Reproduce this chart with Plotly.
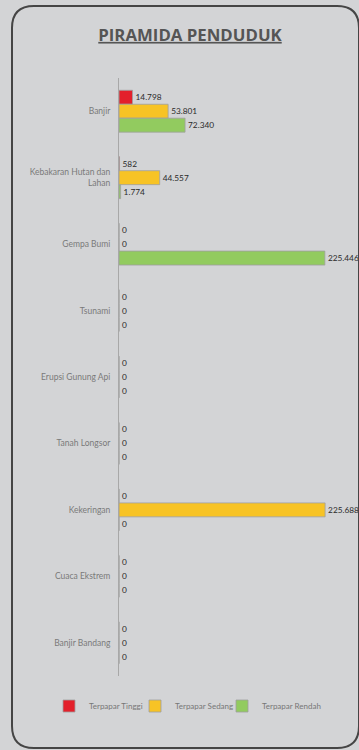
import plotly.graph_objects as go

categories = ["Banjir", "Kebakaran Hutan dan<br>Lahan", "Gempa Bumi", "Tsunami",
              "Erupsi Gunung Api", "Tanah Longsor", "Kekeringan", "Cuaca Ekstrem",
              "Banjir Bandang"]
tinggi = [14798, 582, 0, 0, 0, 0, 0, 0, 0]
sedang = [53801, 44557, 0, 0, 0, 0, 225688, 0, 0]
rendah = [72340, 1774, 225446, 0, 0, 0, 0, 0, 0]
series_names = ["Terpapar Tinggi", "Terpapar Sedang", "Terpapar Rendah"]
colors = ["#e3202b", "#f7c325", "#92cb5f"]

W, H = 359, 750
ML, MR, MT, MB = 119, 19, 78, 74
PW, PH = W - ML - MR, H - MT - MB

def px(x):
    return (x - ML) / PW

def py(y):
    return (H - MB - y) / PH

legend_ids = ["legend", "legend2", "legend3"]
legend_left = [49, 135, 222]

fig = go.Figure()
for name, vals, col, lid in zip(series_names, [tinggi, sedang, rendah], colors, legend_ids):
    fig.add_trace(go.Bar(
        y=categories, x=vals, name=name, orientation="h", legend=lid,
        marker=dict(color=col, line=dict(color="#a0a0a0", width=0.8)),
        text=vals, texttemplate="%{x:,}", textposition="outside",
        textfont=dict(family="Lato", size=8.3, color="#2a2a2a"),
        cliponaxis=False, constraintext="none",
    ))

# rounded border
r = 22
x0, y0, x1, y1 = 12, 6, 359, 748
path = (f"M {px(x0+r)},{py(y0)} L {px(x1-r)},{py(y0)} "
        f"Q {px(x1)},{py(y0)} {px(x1)},{py(y0+r)} "
        f"L {px(x1)},{py(y1-r)} Q {px(x1)},{py(y1)} {px(x1-r)},{py(y1)} "
        f"L {px(x0+r)},{py(y1)} Q {px(x0)},{py(y1)} {px(x0)},{py(y1-r)} "
        f"L {px(x0)},{py(y0+r)} Q {px(x0)},{py(y0)} {px(x0+r)},{py(y0)} Z")

legend_style = dict(orientation="h", xanchor="left", yanchor="middle", y=py(706),
                    font=dict(family="Lato", size=8, color="#777777"),
                    itemwidth=30, bgcolor="rgba(0,0,0,0)")
legends = {lid: dict(legend_style, x=px(lx)) for lid, lx in zip(legend_ids, legend_left)}

fig.update_layout(
    width=W, height=H,
    margin=dict(l=ML, r=MR, t=MT, b=MB, autoexpand=False),
    paper_bgcolor="#d3d4d6", plot_bgcolor="#d3d4d6",
    separators=",.",
    barmode="group", bargap=0.37, bargroupgap=0,
    showlegend=True,
    title=dict(text="<b><u>PIRAMIDA PENDUDUK</u></b>", x=190 / W, xref="container",
               xanchor="center", y=1 - 35 / H, yanchor="middle",
               font=dict(family="Open Sans", size=16.8, color="#555555")),
    xaxis=dict(range=[0, 242000], visible=False, showgrid=False, zeroline=False),
    yaxis=dict(autorange="reversed", showgrid=False, zeroline=False, automargin=False,
               showline=True, linecolor="#a8a8a8", linewidth=1,
               ticks="", ticklabelstandoff=6,
               tickfont=dict(family="Lato", size=8.5, color="#7a7a7a")),
    shapes=[dict(type="path", path=path, xref="paper", yref="paper",
                 line=dict(color="#454545", width=2), layer="above")],
    font=dict(family="Lato"),
    **legends,
)

fig.write_html("out.html", config={"displayModeBar": False},
               post_script="document.body.style.margin='0';document.body.style.overflow='hidden';")
